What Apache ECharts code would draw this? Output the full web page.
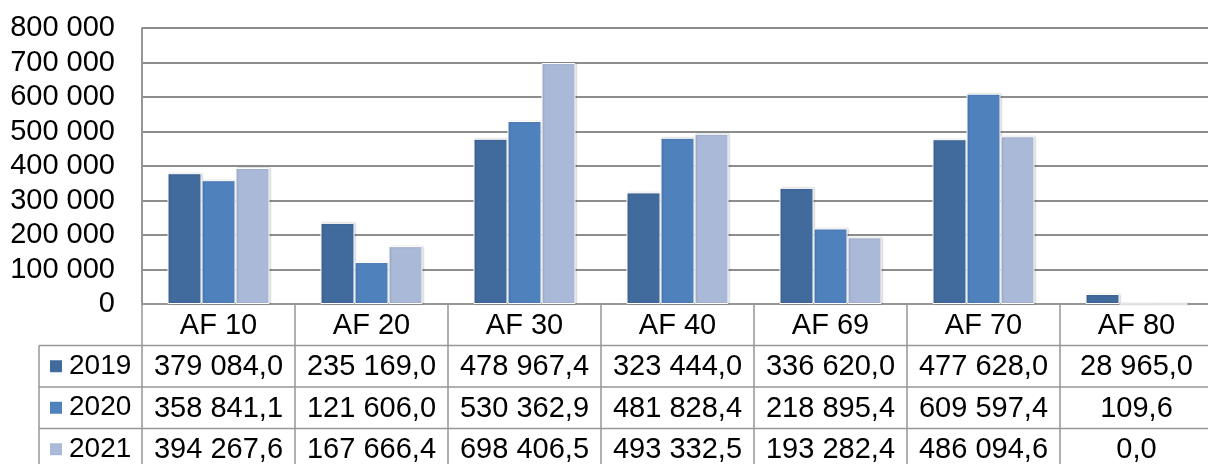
<!DOCTYPE html>
<html>
<head>
<meta charset="utf-8">
<script src="https://cdn.jsdelivr.net/npm/echarts@6/dist/echarts.min.js"></script>
<style>
  html, body { margin: 0; padding: 0; background: #fff; }
  #chart { width: 1208px; height: 464px; }
</style>
</head>
<body>
<div id="chart"></div>
<script>
// data
const categories = ['AF 10', 'AF 20', 'AF 30', 'AF 40', 'AF 69', 'AF 70', 'AF 80']
const years = ['2019', '2020', '2021']
const values2019 = [379084.0, 235169.0, 478967.4, 323444.0, 336620.0, 477628.0, 28965.0]
const values2020 = [358841.1, 121606.0, 530362.9, 481828.4, 218895.4, 609597.4, 109.6]
const values2021 = [394267.6, 167666.4, 698406.5, 493332.5, 193282.4, 486094.6, 0.0]
const yTicks = [0, 100000, 200000, 300000, 400000, 500000, 600000, 700000, 800000]

// layout
const colors = ['#416A9D', '#4F81BD', '#AAB9D7']
const FONT = '"Liberation Sans", Arial, sans-serif'
const GRID_LEFT = 142
const GRID_TOP = 28
const GRID_H = 276
const COL_W = 153
const ROW_H = 41.5
const TABLE_LEFT = 39
const lineColor = '#979797'

const seriesData = [values2019, values2020, values2021]

// 数字格式: 379 084,0
const fmt = (v, digits) => {
  const s = v.toFixed(digits)
  const parts = s.split('.')
  const intPart = parts[0].replace(/\B(?=(\d{3})+(?!\d))/g, ' ')
  return parts.length > 1 ? intPart + ',' + parts[1] : intPart
}

const chart = echarts.init(document.getElementById('chart'))

const gridBottom = GRID_TOP + GRID_H
const tableRight = GRID_LEFT + COL_W * categories.length

// 表格横线和行标题
const graphics = []
for (let r = 1; r <= years.length + 1; r++) {
  const y = gridBottom + ROW_H * r
  graphics.push({
    type: 'line',
    shape: { x1: TABLE_LEFT, y1: y, x2: tableRight, y2: y },
    style: { stroke: lineColor, lineWidth: 1.5 }
  })
}
graphics.push({
  type: 'line',
  shape: { x1: TABLE_LEFT, y1: gridBottom + ROW_H, x2: TABLE_LEFT, y2: 470 },
  style: { stroke: lineColor, lineWidth: 1.5 }
})
years.forEach((yr, i) => {
  const cy = gridBottom + ROW_H * (i + 1.5)
  graphics.push({
    type: 'rect',
    shape: { x: 50, y: cy - 6, width: 12, height: 12 },
    style: { fill: colors[i] }
  })
  graphics.push({
    type: 'text',
    x: 69,
    y: cy,
    style: {
      text: yr,
      font: '28px ' + FONT,
      fill: '#000',
      verticalAlign: 'middle',
      align: 'left'
    }
  })
})

const option = {
  animation: false,
  textStyle: { fontFamily: FONT },
  grid: {
    left: GRID_LEFT,
    top: GRID_TOP,
    width: COL_W * categories.length,
    height: GRID_H,
    containLabel: false,
    outerBoundsMode: 'none'
  },
  xAxis: {
    type: 'category',
    data: categories,
    axisLine: { show: true, lineStyle: { color: lineColor, width: 2 } },
    axisTick: {
      show: true,
      length: 180,
      lineStyle: { color: lineColor, width: 1.5 }
    },
    axisLabel: {
      margin: 1,
      interval: 0,
      formatter: (val, idx) => {
        const lines = [val]
        seriesData.forEach(arr => {
          lines.push(fmt(arr[idx], 1))
        })
        return lines.join('\n')
      },
      fontSize: 29,
      lineHeight: ROW_H,
      color: '#000',
      align: 'center',
      verticalAlign: 'top'
    }
  },
  yAxis: {
    type: 'value',
    min: 0,
    max: 800000,
    interval: 100000,
    axisLine: { show: true, lineStyle: { color: lineColor, width: 2 } },
    axisTick: { show: false },
    splitLine: { show: true, lineStyle: { color: '#8d8d8d', width: 2 } },
    axisLabel: {
      margin: 27,
      fontSize: 29,
      color: '#000',
      formatter: v => fmt(v, 0)
    }
  },
  series: years.map((yr, i) => ({
    name: yr,
    type: 'bar',
    data: seriesData[i],
    barWidth: 34,
    barGap: '0%',
    itemStyle: {
      color: colors[i],
      borderColor: '#fff',
      borderWidth: 1,
      shadowColor: 'rgba(0,0,0,0.2)',
      shadowBlur: 2,
      shadowOffsetX: 1
    }
  })),
  graphic: graphics
}

chart.setOption(option)
</script>
</body>
</html>
